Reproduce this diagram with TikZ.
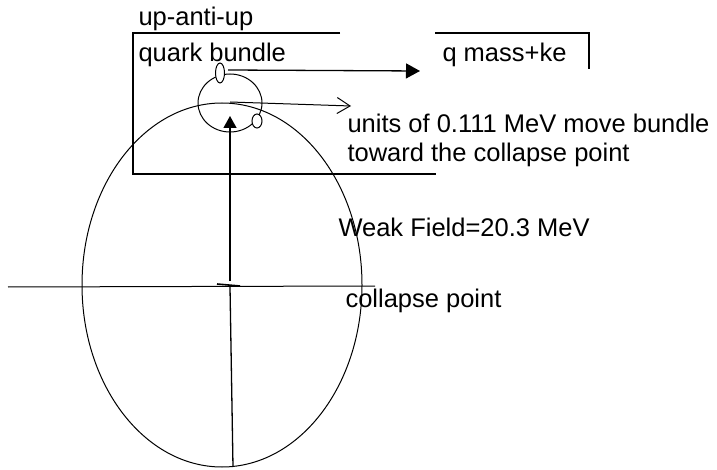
\documentclass[tikz,border=0pt]{standalone}
\usepackage{fontspec}
\setmainfont{Liberation Sans}
\usetikzlibrary{arrows.meta}

\begin{document}
\begin{tikzpicture}[x=1pt, y=-1pt, line width=1pt,
    every node/.style={inner sep=0pt, anchor=base west, font=\fontsize{25.5}{29}\selectfont}]
                \useasboundingbox (0,0) rectangle (717,470);

                \coordinate (O) at (222,285);   % centre of the field
                \coordinate (Q) at (230,103);   % quark bundle
                \coordinate (L) at (8,287);
                \coordinate (R) at (375,286);
                \coordinate (T) at (230,116);
                \coordinate (Tb) at (230,281);
                \coordinate (Bc) at (230,287);
                \coordinate (Bt) at (233,467);
                \coordinate (Ma) at (228,70);
                \coordinate (Mb) at (420,71);
                \coordinate (Ua) at (230,102);
                \coordinate (Ub) at (351,106);

                % frames
                \draw[line width=1.6pt] (340,33) -- (133,33) -- (133,174) -- (436,174);
                \draw[line width=1.6pt] (435,33) -- (589,33) -- (589,69);

                % field and axes
                \draw (O) ellipse [x radius=140pt, y radius=182pt];
                \draw (L) -- (R);
                \draw[line width=1.6pt] (217,284) -- (240,286);
                \draw[line width=1.3pt] (Bc) -- (Bt);
                \draw[line width=1.3pt, -{Triangle[length=12pt, width=13pt]}] (Tb) -- (T);

                % bundle
                \draw (Q) ellipse [x radius=32pt, y radius=29pt];
                \draw[fill=white] (220,73) ellipse [x radius=4.5pt, y radius=10pt];
                \draw[fill=white] (257,121) ellipse [x radius=5pt, y radius=7pt];

                \draw[line width=1.3pt, -{Triangle[length=14pt, width=15pt]}] (Ma) -- (Mb);
                \draw[-{Straight Barb[length=13pt, width=16pt]}] (Ua) -- (Ub);

                % labels
                \node (up) at (138,26) {up-anti-up};
                \node (bundle) at (138,62) {quark bundle};
                \node (mass) at (442,62) {q mass+ke};
                \node (units) at (347,133) {units of 0.111 MeV move bundle};
                \node (toward) at (347,162) {toward the collapse point};
                \node (weak) at (338,237) {Weak Field=20.3 MeV};
                \node (collapse) at (345,307) {collapse point};
            \end{tikzpicture}
\end{document}
